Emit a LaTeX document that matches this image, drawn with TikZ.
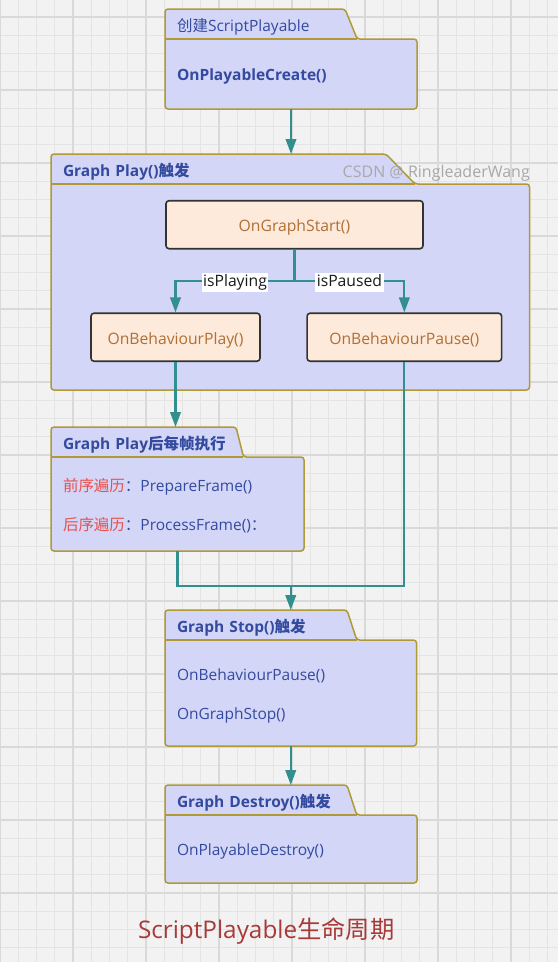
\documentclass[tikz,border=0pt]{standalone}
\usepackage{fontspec}
\setmainfont{Open Sans}
\newfontfamily\cjk{Noto Sans CJK SC}
\usetikzlibrary{shapes.geometric,arrows.meta,calc,positioning,backgrounds}
\definecolor{paper}{HTML}{F2F2F2}
\definecolor{gridminor}{HTML}{E4E4E4}
\definecolor{gridmajor}{HTML}{D9D9D9}
\definecolor{pkgfill}{HTML}{D3D6F7}
\definecolor{pkgline}{HTML}{B09A35}
\definecolor{pkgtext}{HTML}{334A9F}
\definecolor{statefill}{HTML}{FDEADB}
\definecolor{stateline}{HTML}{333333}
\definecolor{statetext}{HTML}{B06F35}
\definecolor{flowcol}{HTML}{338E8E}
\definecolor{hint}{HTML}{E8504C}
\definecolor{captioncol}{HTML}{A83A3A}
\definecolor{watermark}{HTML}{A8A8A8}
\tikzset{
  pkgbody/.style={rectangle, outer sep=0pt, inner xsep=12pt, align=left,
    text height=15pt, text depth=2pt,
    text=pkgtext, font=\fontsize{15.5}{39}\selectfont, anchor=north west},
  pkgtab/.style 2 args={trapezium, trapezium left angle=90, trapezium right angle=#2,
    text width=#1, inner xsep=12pt, inner ysep=7.5pt, text height=15pt, text depth=0pt,
    outer sep=0pt, align=left, text=pkgtext, font=\fontsize{15.5}{18}\selectfont,
    anchor=bottom left corner},
  pkgframe/.style={draw=pkgline, fill=pkgfill, line width=1.5pt, rounded corners=3pt},
  state/.style={rectangle, draw=stateline, fill=statefill, line width=1.6pt,
    rounded corners=3pt, minimum height=48pt, text height=16pt, text depth=2pt,
    text=statetext, font=\fontsize{15.7}{18}\selectfont},
  cond/.style={fill=white, inner sep=1.5pt, text height=12.5pt, text depth=4pt, yshift=-1.5pt,
    text=black!90, font=\fontsize{15.7}{18}\selectfont},
  wire/.style={draw=flowcol, line width=2.2pt}
}

\begin{document}
\begin{tikzpicture}[x=1pt,y=-1pt]
  \useasboundingbox (0,0) rectangle (558,962);
  \begin{scope}[on background layer]
    \fill[paper] (0,0) rectangle (558,962);
    \foreach \i in {0,...,30} \draw[gridminor,line width=0.8pt] (\i*18.25,0) -- (\i*18.25,962);
    \foreach \j in {-1,...,52} \draw[gridminor,line width=0.8pt] (0,17+\j*18.25) -- (558,17+\j*18.25);
    \foreach \i in {0,...,7} \draw[gridmajor,line width=1.2pt] (\i*73,0) -- (\i*73,962);
    \foreach \j in {0,...,13} \draw[gridmajor,line width=1.2pt] (0,17+\j*73) -- (558,17+\j*73);
  \end{scope}

  \begin{scope}
    \node[pkgbody, minimum width=252pt, minimum height=70pt, text width=228pt] (create) at (165,39)
      {\bfseries OnPlayableCreate()};
    \node[pkgtab={156pt}{68}] (t-create) at (create.north west) {{\cjk 创建}ScriptPlayable};

    \node[pkgbody, minimum width=478.5pt, minimum height=206pt, text width=454pt] (play) at (51,184) {};
    \node[pkgtab={311pt}{46}] (t-play) at (play.north west) {\bfseries Graph~Play(){\cjk 触发}};
    \node[text=watermark, font=\fontsize{16}{19}\selectfont, anchor=east] (csdn) at (533.3,173.5)
      {CSDN @ RingleaderWang};

    \node[state, minimum width=257pt] (start) at (294.5,224.7) {OnGraphStart()};
    \node[state, minimum width=169pt] (bplay) at (175.5,337.2) {OnBehaviourPlay()};
    \node[state, minimum width=194.5pt, right=45.5pt of bplay] (bpause) {OnBehaviourPause()};

    \node[pkgbody, minimum width=253pt, minimum height=94pt, text width=229pt, text depth=41pt] (frame) at (51,457)
      {\textcolor{hint}{\cjk 前序遍历}{\cjk ：}PrepareFrame()\\
       \textcolor{hint}{\cjk 后序遍历}{\cjk ：}ProcessFrame(){\cjk ：}};
    \node[pkgtab={161pt}{76}] (t-frame) at (frame.north west) {\bfseries Graph~Play{\cjk 后每帧执行}};

    \node[pkgbody, minimum width=251.5pt, minimum height=106pt, text width=227.5pt, text depth=41pt] (stop) at (165,640)
      {OnBehaviourPause()\\OnGraphStop()};
    \node[pkgtab={158pt}{72}] (t-stop) at (stop.north west) {\bfseries Graph~Stop(){\cjk 触发}};

    \node[pkgbody, minimum width=252pt, minimum height=68pt, text width=228pt] (destroy) at (165,815)
      {OnPlayableDestroy()};
    \node[pkgtab={158pt}{72}] (t-destroy) at (destroy.north west) {\bfseries Graph~Destroy(){\cjk 触发}};

    \node[text=captioncol, font=\fontsize{24.3}{29}\selectfont] (title) at (266.2,931)
      {ScriptPlayable{\cjk 生命周期}};
  \end{scope}

  \begin{scope}[on background layer]
    \foreach \p in {create,play,frame,stop,destroy}{
      \filldraw[pkgframe] (\p.south west) -- (t-\p.top left corner) -- (t-\p.top right corner)
        -- (t-\p.bottom right corner) -- (\p.north east) -- (\p.south east) -- cycle;
      \draw[pkgframe] (\p.north west) -- (t-\p.bottom right corner);
    }
  \end{scope}

  \begin{scope}[>={Triangle[length=15pt,width=10.5pt]}]
    \draw[wire,->] (create.south) -- (create.south |- t-play.north);
    \draw[wire,->] (start.south) -- ++(0,31.5) -| node[cond,pos=0.25] {isPlaying} (bplay.north);
    \draw[wire,->] (start.south) -- ++(0,31.5) -| node[cond,pos=0.25] {isPaused} (bpause.north);
    \draw[wire,->] (bplay.south) -- (bplay.south |- t-frame.north);
    \coordinate (merge) at ($(frame.south)+(0,35)$);
    \draw[wire] (frame.south) -- (merge) -| (bpause.south);
    \draw[wire,->] (merge -| stop.north) -- (stop.north |- t-stop.north);
    \draw[wire,->] (stop.south) -- (stop.south |- t-destroy.north);
  \end{scope}
\end{tikzpicture}
\end{document}
